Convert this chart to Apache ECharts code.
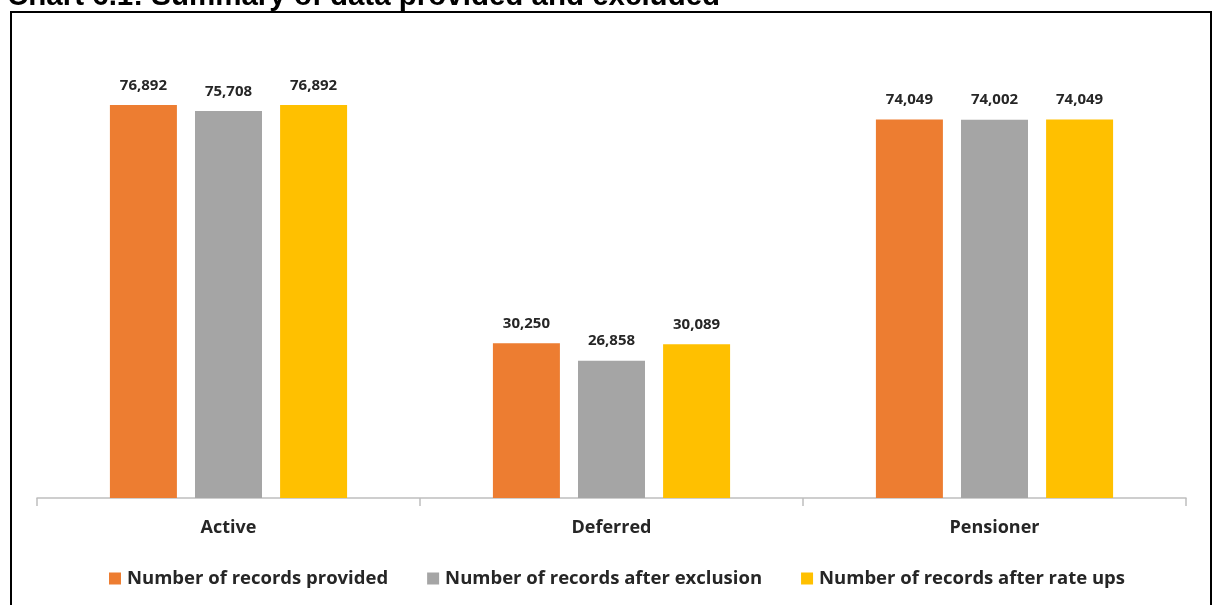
<!DOCTYPE html>
<html>
<head>
<meta charset="utf-8">
<script src="https://cdn.jsdelivr.net/npm/echarts@6/dist/echarts.min.js"></script>
<style>html,body{margin:0;padding:0;background:#fff;}#c{width:1213px;height:605px;}</style>
</head>
<body>
<div id="c"></div>
<script>
const categories = ['Active', 'Deferred', 'Pensioner'];
const seriesNames = ['Number of records provided', 'Number of records after exclusion', 'Number of records after rate ups'];
const provided = [76892, 30250, 74049];
const afterExclusion = [75708, 26858, 74002];
const afterRateUps = [76892, 30089, 74049];
const colors = ['#ED7D31', '#A5A5A5', '#FFC000'];
const titleText = 'Chart 6.1: Summary of data provided and excluded';

const chart = echarts.init(document.getElementById('c'));
const font = '"Open Sans", Lato, sans-serif';
const values = [provided, afterExclusion, afterRateUps];
chart.setOption({
  animation: false,
  graphic: [
    { type: 'rect', shape: { x: 11, y: 12, width: 1200, height: 600 }, style: { fill: 'none', stroke: '#000', lineWidth: 2 } },
    { type: 'text', x: 7, y: -18, style: { text: titleText, font: 'bold 29.5px "Liberation Sans", Arial, sans-serif', fill: '#000' } }
  ],
  grid: { left: 37, right: 27, top: 89, bottom: 107 },
  legend: {
    left: 109, top: 569, padding: 0,
    itemWidth: 12, itemHeight: 12, itemGap: 39,
    icon: 'rect',
    textStyle: { fontFamily: font, fontWeight: 'bold', fontSize: 18.5, color: '#262626', padding: [0, 0, 0, 1] },
    data: seriesNames
  },
  xAxis: {
    type: 'category', data: categories,
    axisLine: { lineStyle: { color: '#BFBFBF', width: 1.5 } },
    axisTick: { show: true, length: 8, lineStyle: { color: '#BFBFBF', width: 1.5 } },
    axisLabel: { margin: 21, fontFamily: font, fontWeight: 'bold', fontSize: 18, color: '#262626' }
  },
  yAxis: { type: 'value', min: 0, max: 80000, show: false, splitLine: { show: false } },
  series: seriesNames.map((n, i) => ({
    name: n, type: 'bar', data: values[i], barWidth: 67, barGap: '27%',
    itemStyle: { color: colors[i] },
    label: {
      show: true, position: 'top', distance: 12,
      fontFamily: font, fontWeight: 'bold', fontSize: 15, color: '#262626',
      formatter: p => p.value.toLocaleString('en-US')
    }
  }))
});
</script>
</body>
</html>
